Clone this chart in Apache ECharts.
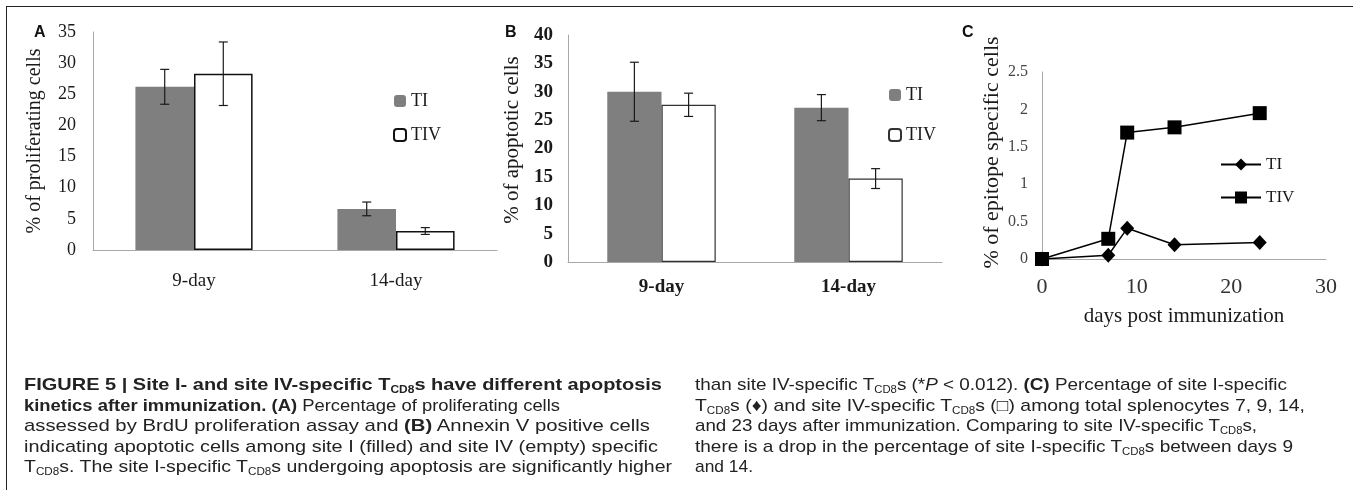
<!DOCTYPE html>
<html><head><meta charset="utf-8">
<script src="https://cdn.jsdelivr.net/npm/echarts@6/dist/echarts.min.js"></script>
<style>
html,body{margin:0;padding:0;background:#fff;}
#wrap{position:relative;width:1353px;height:496px;overflow:hidden;background:#fff;}
#chart{position:absolute;left:0;top:0;width:1353px;height:496px;}
#frameTop{position:absolute;left:6px;top:6px;width:1347px;height:0;border-top:1.5px solid #222;}
#frameLeft{position:absolute;left:6px;top:6px;width:0;height:484px;border-left:1.5px solid #222;}
.cap{position:absolute;top:375px;font-family:"Liberation Sans Narrow","Liberation Sans",Arial,sans-serif;font-size:17px;line-height:20.5px;color:#222;white-space:nowrap;}
.cap .ln{display:block;width:max-content;transform-origin:0 50%;}
.cap b{font-weight:bold;}
sub{font-size:60%;vertical-align:-0.3em;line-height:0;}
</style></head>
<body>
<div id="wrap">
  <div id="chart"></div>
  <div id="frameTop"></div>
  <div id="frameLeft"></div>
  <div class="cap" style="left:24px;">
    <span class="ln" data-w="638"><b>FIGURE 5 | Site I- and site IV-specific T<sub>CD8</sub>s have different apoptosis</b></span>
    <span class="ln" data-w="536"><b>kinetics after immunization. (A)</b> Percentage of proliferating cells</span>
    <span class="ln" data-w="626">assessed by BrdU proliferation assay and <b>(B)</b> Annexin V positive cells</span>
    <span class="ln" data-w="634">indicating apoptotic cells among site I (filled) and site IV (empty) specific</span>
    <span class="ln" data-w="648">T<sub>CD8</sub>s. The site I-specific T<sub>CD8</sub>s undergoing apoptosis are significantly higher</span>
  </div>
  <div class="cap" style="left:695px;">
    <span class="ln" data-w="592">than site IV-specific T<sub>CD8</sub>s (*<i>P</i> &lt; 0.012). <b>(C)</b> Percentage of site I-specific</span>
    <span class="ln" data-w="610">T<sub>CD8</sub>s (&#9830;) and site IV-specific T<sub>CD8</sub>s (&#9633;) among total splenocytes 7, 9, 14,</span>
    <span class="ln" data-w="562">and 23 days after immunization. Comparing to site IV-specific T<sub>CD8</sub>s,</span>
    <span class="ln" data-w="598">there is a drop in the percentage of site I-specific T<sub>CD8</sub>s between days 9</span>
    <span class="ln" data-w="58">and 14.</span>
  </div>
</div>
<script>
// ---------- data ----------
const categories = ['9-day', '14-day'];
// Panel A: % of proliferating cells
const profTI = [26.2, 6.6];
const profTIErr = [2.8, 1.1];
const profTIV = [28.3, 3.05];
const profTIVErr = [5.1, 0.55];
// Panel B: % of apoptotic cells
const apopTI = [30.0, 27.2];
const apopTIErr = [5.2, 2.3];
const apopTIV = [27.7, 14.7];
const apopTIVErr = [2.05, 1.75];
// Panel C: % of epitope specific cells vs days post immunization
const days = [0, 7, 9, 14, 23];
const epiTI = [0, 0.05, 0.41, 0.19, 0.22];
const epiTIV = [0, 0.27, 1.69, 1.76, 1.95];
// axis tick settings
const yTicksA = {max: 35, interval: 5};
const yTicksB = {max: 40, interval: 5};
const yTicksC = {max: 2.5, interval: 0.5};
const xTicksC = {max: 30, interval: 10};

// ---------- helpers ----------
const SERIF = '"Liberation Serif","Times New Roman",serif';
const SANS = '"Liberation Sans",Arial,sans-serif';
const CAT_GAP = 0.42;

function errData(means, errs) {
  return means.map((m, i) => [i, m - errs[i], m + errs[i]]);
}
function errRenderer(sign) {
  return function (params, api) {
    const x = api.value(0);
    const lo = api.coord([x, api.value(1)]);
    const hi = api.coord([x, api.value(2)]);
    const band = api.size([1, 0])[0];
    const bw = band * (1 - CAT_GAP) / 2;
    const cx = lo[0] + sign * bw / 2;
    const cap = 4.5;
    const st = {stroke: '#1a1a1a', lineWidth: 1.2};
    return {
      type: 'group',
      children: [
        {type: 'line', shape: {x1: cx, y1: lo[1], x2: cx, y2: hi[1]}, style: st},
        {type: 'line', shape: {x1: cx - cap, y1: hi[1], x2: cx + cap, y2: hi[1]}, style: st},
        {type: 'line', shape: {x1: cx - cap, y1: lo[1], x2: cx + cap, y2: lo[1]}, style: st}
      ]
    };
  };
}
const nameFmt = n => n.split('-')[1];
const axisLineGray = {show: true, lineStyle: {color: '#a8a8a8', width: 1}};

const chart = echarts.init(document.getElementById('chart'), null, {renderer: 'canvas'});
const option = {
  animation: false,
  backgroundColor: 'transparent',
  grid: [
    {left: 93, top: 32, width: 404, height: 218},
    {left: 568, top: 35, width: 374, height: 227},
    {left: 1042, top: 72, width: 284, height: 187}
  ],
  xAxis: [
    {gridIndex: 0, type: 'category', data: categories, axisLine: axisLineGray, axisTick: {show: false},
     axisLabel: {fontFamily: SERIF, fontSize: 19, color: '#1a1a1a', margin: 22}},
    {gridIndex: 1, type: 'category', data: categories, axisLine: axisLineGray, axisTick: {show: false},
     axisLabel: {fontFamily: SERIF, fontSize: 19, fontWeight: 'bold', color: '#1a1a1a', margin: 16}},
    {gridIndex: 2, type: 'value', min: 0, max: xTicksC.max, interval: xTicksC.interval,
     axisLine: axisLineGray, axisTick: {show: false}, splitLine: {show: false},
     axisLabel: {fontFamily: SERIF, fontSize: 22, color: '#333', margin: 17},
     name: 'days post immunization', nameLocation: 'middle', nameGap: 47,
     nameTextStyle: {fontFamily: SERIF, fontSize: 21, color: '#1a1a1a'}}
  ],
  yAxis: [
    {gridIndex: 0, type: 'value', min: 0, max: yTicksA.max, interval: yTicksA.interval,
     axisLine: axisLineGray, axisTick: {show: false}, splitLine: {show: false},
     axisLabel: {fontFamily: SERIF, fontSize: 18, color: '#1a1a1a', margin: 17},
     name: '% of proliferating cells', nameLocation: 'middle', nameGap: 48, nameRotate: 90,
     nameTextStyle: {fontFamily: SERIF, fontSize: 20, color: '#1a1a1a'}},
    {gridIndex: 1, type: 'value', min: 0, max: yTicksB.max, interval: yTicksB.interval,
     axisLine: axisLineGray, axisTick: {show: false}, splitLine: {show: false},
     axisLabel: {fontFamily: SERIF, fontSize: 19, fontWeight: 'bold', color: '#1a1a1a', margin: 15},
     name: '% of apoptotic cells', nameLocation: 'middle', nameGap: 45, nameRotate: 90,
     nameTextStyle: {fontFamily: SERIF, fontSize: 21, color: '#1a1a1a', padding: [0, 0, 0, 17]}},
    {gridIndex: 2, type: 'value', min: 0, max: yTicksC.max, interval: yTicksC.interval,
     axisLine: axisLineGray, axisTick: {show: false}, splitLine: {show: false},
     axisLabel: {fontFamily: SERIF, fontSize: 16, color: '#444', margin: 14},
     name: '% of epitope specific cells', nameLocation: 'middle', nameGap: 39, nameRotate: 90,
     nameTextStyle: {fontFamily: SERIF, fontSize: 22, color: '#1a1a1a', padding: [0, 0, 0, 26]}}
  ],
  legend: [
    {data: ['A-TI', 'A-TIV'], orient: 'vertical', left: 388, top: 87, itemWidth: 12, itemHeight: 12,
     itemGap: 16, selectedMode: false, formatter: nameFmt,
     textStyle: {fontFamily: SERIF, fontSize: 18, color: '#1a1a1a'}},
    {data: ['B-TI', 'B-TIV'], orient: 'vertical', left: 883, top: 81, itemWidth: 12, itemHeight: 12,
     itemGap: 22, selectedMode: false, formatter: nameFmt,
     textStyle: {fontFamily: SERIF, fontSize: 18, color: '#1a1a1a'}},
    {data: ['C-TI', 'C-TIV'], orient: 'vertical', left: 1215, top: 151, itemWidth: 40, itemHeight: 15,
     itemGap: 16, selectedMode: false, formatter: nameFmt,
     textStyle: {fontFamily: SERIF, fontSize: 17, color: '#1a1a1a'}}
  ],
  graphic: [
    {type: 'text', left: 34, top: 25, style: {text: 'A', font: 'bold 16px ' + SANS, fill: '#111'}},
    {type: 'text', left: 505, top: 25, style: {text: 'B', font: 'bold 16px ' + SANS, fill: '#111'}},
    {type: 'text', left: 962, top: 25, style: {text: 'C', font: 'bold 16px ' + SANS, fill: '#111'}}
  ],
  series: [
    {name: 'A-TI', type: 'bar', xAxisIndex: 0, yAxisIndex: 0, data: profTI, barGap: '0%', barCategoryGap: '42%',
     itemStyle: {color: '#7f7f7f'}},
    {name: 'A-TIV', type: 'bar', xAxisIndex: 0, yAxisIndex: 0, data: profTIV, barGap: '0%', barCategoryGap: '42%',
     itemStyle: {color: '#ffffff', borderColor: '#111', borderWidth: 1.5}},
    {type: 'custom', xAxisIndex: 0, yAxisIndex: 0, renderItem: errRenderer(-1), data: errData(profTI, profTIErr), z: 10, silent: true},
    {type: 'custom', xAxisIndex: 0, yAxisIndex: 0, renderItem: errRenderer(1), data: errData(profTIV, profTIVErr), z: 10, silent: true},

    {name: 'B-TI', type: 'bar', xAxisIndex: 1, yAxisIndex: 1, data: apopTI, barGap: '0%', barCategoryGap: '42%',
     itemStyle: {color: '#7f7f7f'}},
    {name: 'B-TIV', type: 'bar', xAxisIndex: 1, yAxisIndex: 1, data: apopTIV, barGap: '0%', barCategoryGap: '42%',
     itemStyle: {color: '#ffffff', borderColor: '#333', borderWidth: 1.2}},
    {type: 'custom', xAxisIndex: 1, yAxisIndex: 1, renderItem: errRenderer(-1), data: errData(apopTI, apopTIErr), z: 10, silent: true},
    {type: 'custom', xAxisIndex: 1, yAxisIndex: 1, renderItem: errRenderer(1), data: errData(apopTIV, apopTIVErr), z: 10, silent: true},

    {name: 'C-TI', type: 'line', xAxisIndex: 2, yAxisIndex: 2, data: days.map((d, i) => [d, epiTI[i]]),
     symbol: 'diamond', symbolSize: [14, 15], lineStyle: {color: '#000', width: 1.5}, itemStyle: {color: '#000'}},
    {name: 'C-TIV', type: 'line', xAxisIndex: 2, yAxisIndex: 2, data: days.map((d, i) => [d, epiTIV[i]]),
     symbol: 'rect', symbolSize: 14, lineStyle: {color: '#000', width: 1.5}, itemStyle: {color: '#000'}}
  ]
};
chart.setOption(option);

// fit each caption line to the width it has in the reference
function fitCaption() {
  document.querySelectorAll('.cap .ln').forEach(el => {
    el.style.transform = 'none';
    const w = el.getBoundingClientRect().width;
    const target = parseFloat(el.getAttribute('data-w'));
    if (w > 0 && target > 0) el.style.transform = 'scaleX(' + (target / w) + ')';
  });
}
fitCaption();
if (document.fonts && document.fonts.ready) document.fonts.ready.then(fitCaption);
</script>
</body></html>
